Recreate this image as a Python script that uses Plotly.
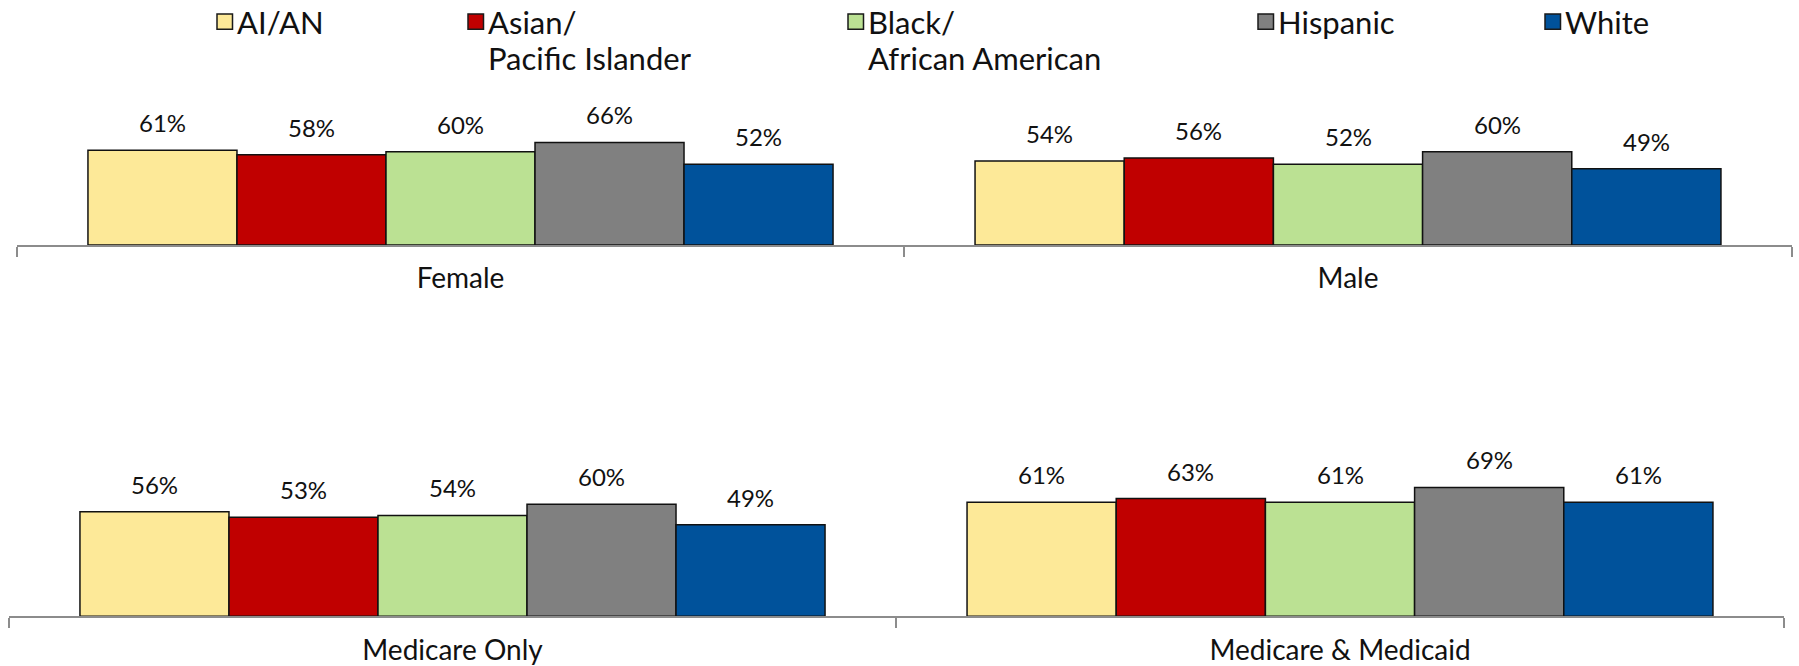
import plotly.graph_objects as go

# ---------------- data ----------------
panels = ["Female", "Male", "Medicare Only", "Medicare & Medicaid"]
groups = ["AI/AN", "Asian/Pacific Islander", "Black/African American", "Hispanic", "White"]
legend_lines = [["AI/AN"], ["Asian/", "Pacific Islander"], ["Black/", "African American"],
                ["Hispanic"], ["White"]]

female = [61, 58, 60, 66, 52]
male = [54, 56, 52, 60, 49]
medicare_only = [56, 53, 54, 60, 49]
medicare_medicaid = [61, 63, 61, 69, 61]

colors = ["#FDE998", "#C00000", "#BBE193", "#808080", "#00529B"]

panel_values = [female, male, medicare_only, medicare_medicaid]

# ---------------- layout (pixels) ----------------
W, H = 1799, 666
FONT = "Lato, 'Liberation Sans', sans-serif"
x_domains_px = [(17, 904), (904, 1792), (9, 896), (896, 1784)]
axis_y_px = [246, 246, 619, 619]
full_scale_px = [156, 156, 187.5, 187.5]
BARGAP = 0.16
AXIS_GRAY = "#8c8c8c"

legend_square_left = [217, 468, 848, 1258, 1545]
legend_square_top = 14
legend_square_size = 15.5
legend_text_gap = 18
legend_line_centers = [22.5, 58.5]

fig = go.Figure()
annotations = []
shapes = []
layout_axes = {}

for p in range(len(panels)):
    sfx = "" if p == 0 else str(p + 1)
    xa, ya = "x" + sfx, "y" + sfx
    for g in range(len(groups)):
        fig.add_trace(go.Bar(
            x=[panels[p]], y=[panel_values[p][g]], name=groups[g],
            marker=dict(color=colors[g], line=dict(color="#111111", width=1.5)),
            xaxis=xa, yaxis=ya, showlegend=False,
        ))
        # percent labels above each bar
        off = (g - (len(groups) - 1) / 2) * (1 - BARGAP) / len(groups)
        annotations.append(dict(
            x=off, y=panel_values[p][g], xref=xa, yref=ya,
            text=f"{panel_values[p][g]}%", showarrow=False,
            yanchor="bottom", xanchor="center", yshift=11,
            font=dict(family=FONT, size=24, color="#111111"),
        ))
    x0, x1 = x_domains_px[p]
    yb = 1 - axis_y_px[p] / H
    yt = 1 - (axis_y_px[p] - full_scale_px[p]) / H
    layout_axes["xaxis" + sfx] = dict(
        domain=[x0 / W, x1 / W], anchor=ya, type="category",
        range=[-0.5, 0.5], tickson="boundaries", ticks="outside",
        ticklen=10, tickwidth=2, tickcolor=AXIS_GRAY,
        showline=True, linecolor=AXIS_GRAY, linewidth=2,
        showgrid=False, zeroline=False, ticklabelstandoff=8,
        tickfont=dict(family=FONT, size=28, color="#111111"),
        fixedrange=True,
    )
    layout_axes["yaxis" + sfx] = dict(
        domain=[yb, yt], anchor=xa, range=[0, 100], visible=False,
        fixedrange=True,
    )

# manual legend
for g in range(len(groups)):
    L = legend_square_left[g]
    shapes.append(dict(
        type="rect", xref="paper", yref="paper",
        x0=L / W, x1=(L + legend_square_size) / W,
        y0=1 - (legend_square_top + legend_square_size) / H,
        y1=1 - legend_square_top / H,
        fillcolor=colors[g], line=dict(color="#1a1a1a", width=1.5),
    ))
    for li, line in enumerate(legend_lines[g]):
        annotations.append(dict(
            x=(L + legend_text_gap) / W, y=1 - legend_line_centers[li] / H,
            xref="paper", yref="paper", xanchor="left", yanchor="middle",
            align="left", showarrow=False, text=line,
            font=dict(family=FONT, size=31, color="#111111"),
        ))

fig.update_layout(
    width=W, height=H, margin=dict(l=0, r=0, t=0, b=0),
    paper_bgcolor="white", plot_bgcolor="white",
    barmode="group", bargap=BARGAP, bargroupgap=0,
    showlegend=False, annotations=annotations, shapes=shapes,
    **layout_axes,
)

fig.write_html("out.html")
